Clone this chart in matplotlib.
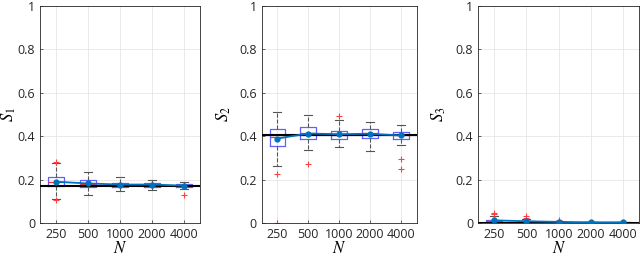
import matplotlib
matplotlib.use("Agg")
import matplotlib.pyplot as plt

sizes = ["250", "500", "1000", "2000", "4000"]

# per-panel box stats: (whislo, q1, med, q3, whishi), outliers, mean, reference value
s1_stats = [(0.11, 0.172, 0.188, 0.212, 0.275), (0.13, 0.168, 0.178, 0.198, 0.235),
            (0.145, 0.168, 0.175, 0.185, 0.212), (0.15, 0.168, 0.176, 0.185, 0.2),
            (0.155, 0.165, 0.172, 0.18, 0.19)]
s1_out = [[0.28, 0.105], [], [], [], [0.13]]
s1_mean = [0.19, 0.182, 0.177, 0.177, 0.172]
s1_true = 0.172

s2_stats = [(0.262, 0.354, 0.397, 0.431, 0.509), (0.335, 0.385, 0.415, 0.443, 0.498),
            (0.349, 0.385, 0.407, 0.425, 0.474), (0.332, 0.391, 0.413, 0.432, 0.463),
            (0.358, 0.389, 0.405, 0.42, 0.452)]
s2_out = [[0.225, 0.0], [0.272], [0.492], [], [0.295, 0.248]]
s2_mean = [0.389, 0.412, 0.409, 0.411, 0.403]
s2_true = 0.405

s3_stats = [(0.0, 0.003, 0.01, 0.016, 0.03), (0.0, 0.002, 0.006, 0.01, 0.02),
            (0.0, 0.001, 0.004, 0.006, 0.01), (0.0, 0.001, 0.003, 0.004, 0.006),
            (0.0, 0.001, 0.002, 0.003, 0.005)]
s3_out = [[0.04, 0.045], [0.03, 0.022], [0.013], [], []]
s3_mean = [0.012, 0.008, 0.005, 0.003, 0.003]
s3_true = 0.0

panels = [(s1_stats, s1_out, s1_mean, s1_true, "$S_1$"),
          (s2_stats, s2_out, s2_mean, s2_true, "$S_2$"),
          (s3_stats, s3_out, s3_mean, s3_true, "$S_3$")]

plt.rcParams["font.family"] = ["Open Sans", "DejaVu Sans"]
plt.rcParams["mathtext.fontset"] = "stix"
fig = plt.figure(figsize=(6.4, 2.56), dpi=100)
lefts = [0.0625, 0.409, 0.747]
widths = [0.25, 0.242, 0.252]
ylab_x = [-0.1375, -0.187, -0.186]

for (stats, outs, means, true, lab), l, w, lx in zip(panels, lefts, widths, ylab_x):
    ax = fig.add_axes([l, 0.129, w, 0.848])
    bx = []
    for (lo, q1, med, q3, hi), fl in zip(stats, outs):
        bx.append(dict(whislo=lo, q1=q1, med=med, q3=q3, whishi=hi, fliers=fl))
    pos = list(range(1, len(sizes) + 1))
    ax.bxp(bx, positions=pos, widths=0.5, showfliers=True,
           boxprops=dict(color="#6060ff", lw=0.9),
           medianprops=dict(color="#ff3030", lw=0.9),
           whiskerprops=dict(color="#555555", lw=0.8, ls="--"),
           capprops=dict(color="#555555", lw=0.8),
           flierprops=dict(marker="+", markeredgecolor="#ff4040", markersize=4,
                           markeredgewidth=0.8, lw=0))
    ax.axhline(true, color="black", lw=1.5, zorder=4)
    ax.plot(pos, means, color="#0072BD", lw=1.3, marker="o", markersize=3.5, zorder=5)
    ax.set_xlim(0.5, 5.5)
    ax.set_ylim(0, 1)
    ax.set_xticks(pos)
    ax.set_xticklabels(sizes)
    ax.set_yticks([0, 0.2, 0.4, 0.6, 0.8, 1])
    ax.set_yticklabels(["0", "0.2", "0.4", "0.6", "0.8", "1"])
    ax.tick_params(direction="in", length=2.5, labelsize=9, colors="#262626", width=0.5)
    ax.grid(True, color="#e6e6e6", lw=0.6)
    ax.set_axisbelow(True)
    for sp in ax.spines.values():
        sp.set_color("#262626")
        sp.set_linewidth(0.6)
    ax.set_ylabel(lab, fontsize=12)
    ax.yaxis.set_label_coords(lx, 0.5)
    ax.set_xlabel("$N$", fontsize=12, labelpad=0)

fig.savefig("out.png", dpi=100)
